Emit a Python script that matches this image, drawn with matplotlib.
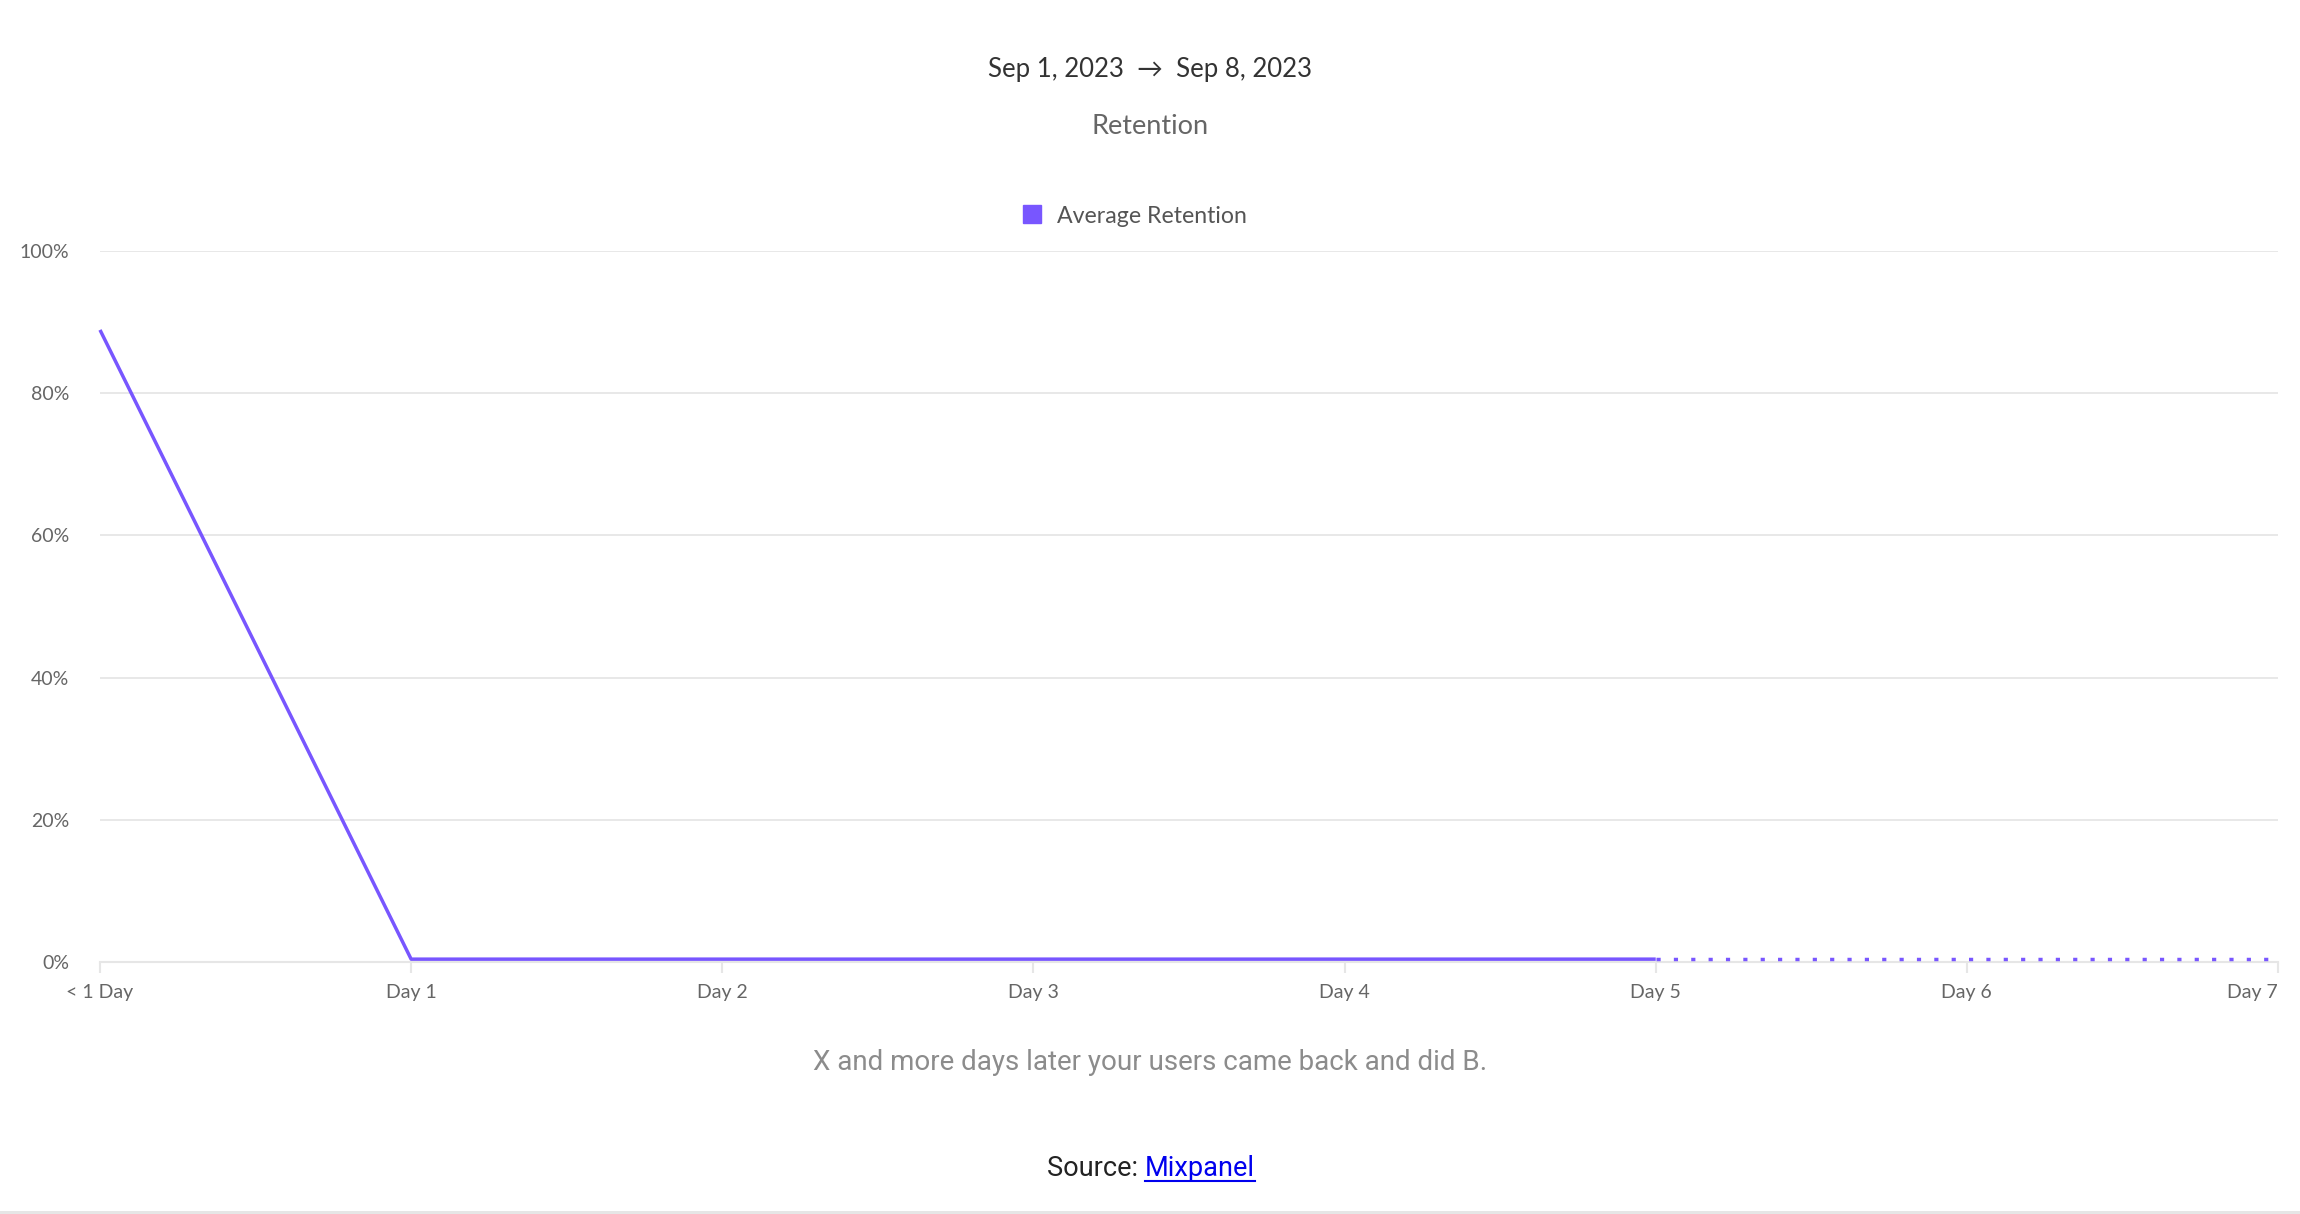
import matplotlib
matplotlib.use("Agg")
import matplotlib.pyplot as plt
from matplotlib.lines import Line2D
from matplotlib.patches import Rectangle

# data
days = ["< 1 Day", "Day 1", "Day 2", "Day 3", "Day 4", "Day 5", "Day 6", "Day 7"]
retention = [88.9, 0.4, 0.4, 0.4, 0.4, 0.4, 0.4, 0.4]
complete_upto = 5  # after Day 5 the periods are still incomplete (dotted)
y_ticks = [0, 20, 40, 60, 80, 100]

PURPLE = "#7856ff"
GRID = "#e6e6e6"
W, H = 2300, 1214

plt.rcParams["font.family"] = ["Lato", "DejaVu Sans"]

fig = plt.figure(figsize=(W / 100, H / 100), dpi=100)
ax = fig.add_axes([100 / W, 252 / H, 2178 / W, 711 / H])

x = list(range(len(days)))
ax.plot(x[:complete_upto + 1], retention[:complete_upto + 1], color=PURPLE,
        lw=2.5, solid_capstyle="butt", zorder=3, clip_on=False)
ax.plot(x[complete_upto:], retention[complete_upto:], color=PURPLE,
        lw=2.5, linestyle=(0, (1.2, 3.8)), zorder=3, clip_on=False)

ax.set_xlim(0, len(days) - 1)
ax.set_ylim(0, 100)
ax.set_yticks(y_ticks)
ax.set_yticklabels([f"{v}%" for v in y_ticks])
ax.set_xticks(x)
ax.set_xticklabels(days)
ax.get_xticklabels()[-1].set_ha("right")

for s in ["top", "right", "left"]:
    ax.spines[s].set_visible(False)
ax.spines["bottom"].set_color(GRID)
ax.spines["bottom"].set_linewidth(1.5)
ax.grid(axis="y", color=GRID, lw=1.3)
ax.set_axisbelow(True)
ax.tick_params(axis="y", length=0, pad=22, labelsize=14, labelcolor="#666666")
ax.tick_params(axis="x", length=8, width=1.5, color=GRID, pad=8,
               labelsize=14, labelcolor="#666666")

fig.text(0.5, 1 - 70 / H, "Sep 1, 2023  \u2192  Sep 8, 2023", ha="center", va="center",
         fontsize=18.5, color="#333333", family=["Lato", "DejaVu Sans"])
fig.text(0.5, 1 - 126 / H, "Retention", ha="center", va="center",
         fontsize=19.5, color="#666666")

handle = Line2D([], [], color=PURPLE, marker="s", linestyle="none", markersize=13)
fig.legend([handle], ["Average Retention"], loc="center",
           bbox_to_anchor=(1128 / W, 1 - 216 / H), frameon=False,
           fontsize=16.7, labelcolor="#555555", handletextpad=0.05)

fig.text(0.5, 1 - 1062 / H, "X and more days later your users came back and did B.",
         ha="center", va="center", fontsize=20, color="#8c8c8c",
         family=["Liberation Sans Narrow", "Roboto"])

src = fig.text(1047 / W, 1 - 1168 / H, "Source: ", ha="left", va="center",
               fontsize=19.5, color="#222222", family=["Liberation Sans Narrow", "Roboto"])
fig.canvas.draw()
r = fig.canvas.get_renderer()
bb = src.get_window_extent(r)
link = fig.text(bb.x1 / W, 1 - 1168 / H, "Mixpanel", ha="left", va="center",
                fontsize=19.5, color="#0000ee", family=["Liberation Sans Narrow", "Roboto"])
fig.canvas.draw()
lb = link.get_window_extent(r)
fig.add_artist(Line2D([lb.x0 / W, lb.x1 / W], [(lb.y0 + 1) / H] * 2,
                      color="#0000ee", lw=1.5, transform=fig.transFigure))

fig.add_artist(Rectangle((0, 0), 1, 3 / H, transform=fig.transFigure,
                         color=GRID, lw=0))

fig.savefig("out.png", dpi=100, facecolor="white")
